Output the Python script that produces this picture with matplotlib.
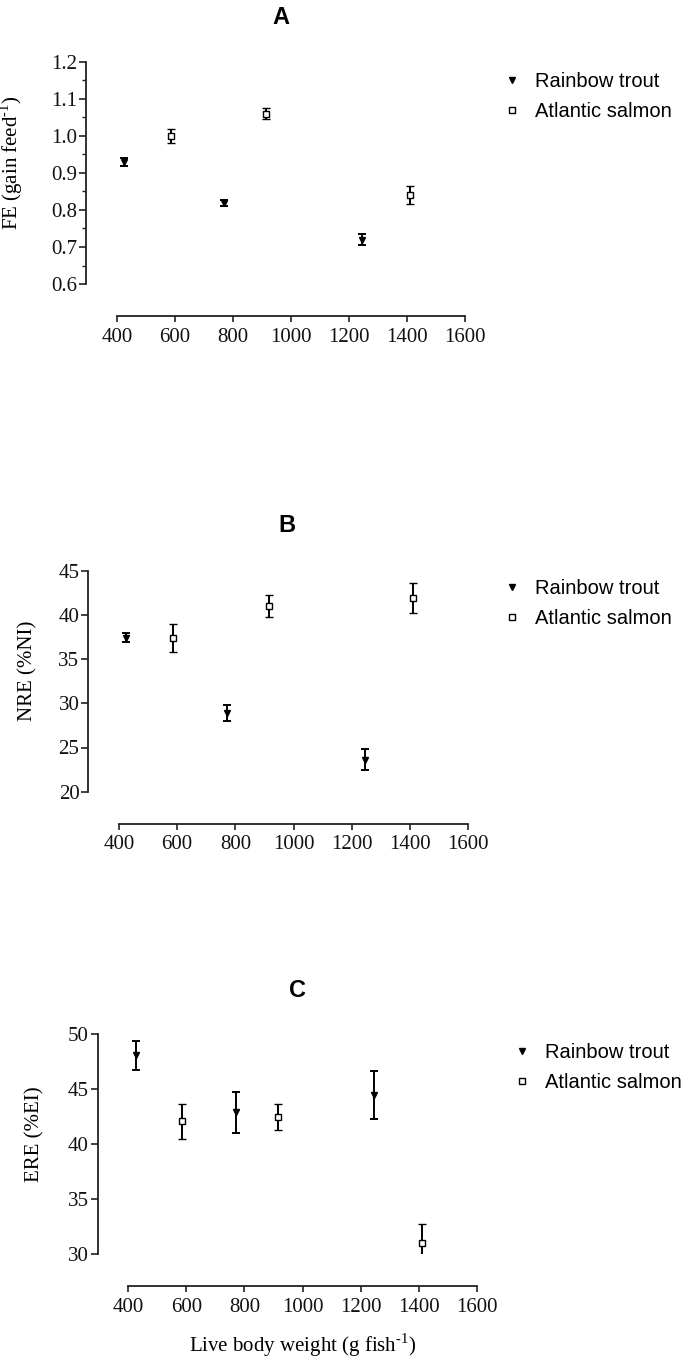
import matplotlib
matplotlib.use("Agg")
import matplotlib.pyplot as plt
from matplotlib.lines import Line2D
from matplotlib.ticker import MultipleLocator

# body weight (g) at each sampling point
rt_x = [425, 770, 1245]
as_x = [585, 915, 1410]

# panel A: feed efficiency
fe_rt = [0.93, 0.82, 0.72]
fe_rt_err = [0.010, 0.008, 0.015]
fe_as = [1.00, 1.06, 0.84]
fe_as_err = [0.020, 0.015, 0.025]

# panel B: nitrogen retention efficiency
nre_rt = [37.4, 28.9, 23.6]
nre_rt_err = [0.5, 0.9, 1.2]
nre_as = [37.4, 41.0, 41.9]
nre_as_err = [1.55, 1.25, 1.7]

# panel C: energy retention efficiency
ere_rt = [48.1, 42.9, 44.5]
ere_rt_err = [1.3, 1.9, 2.2]
ere_as = [42.1, 42.5, 31.0]
ere_as_err = [1.6, 1.2, 1.75]

W, H = 682, 1361
SERIF = ["Liberation Serif", "DejaVu Serif"]
SANS = ["Liberation Sans", "DejaVu Sans"]
plt.rcParams["font.family"] = SERIF
plt.rcParams["mathtext.fontset"] = "custom"
plt.rcParams["mathtext.rm"] = "Liberation Serif"
INK = "#222222"

fig = plt.figure(figsize=(W / 100, H / 100), dpi=100)


def px_axes(x0, x1, ytop, ybot):
    return fig.add_axes([x0 / W, 1 - ybot / H, (x1 - x0) / W, (ybot - ytop) / H])


def panel(box, rt_y, rt_e, as_y, as_e, ylim, major, minor, ylabel, label_x,
          title, title_xy, leg_xy):
    ax = px_axes(*box)
    x0, x1 = box[0], box[1]
    ax.errorbar(rt_x, rt_y, yerr=rt_e, fmt="v", color="black", ms=4.6,
                elinewidth=1.4, capsize=3, capthick=1.4)
    ax.errorbar(as_x, as_y, yerr=as_e, fmt="s", color="black", mfc="white",
                mec="black", mew=1.0, ms=4.0, elinewidth=1.4, capsize=3,
                capthick=1.4)
    ax.set_xlim(400, 1600)
    ax.set_ylim(*ylim)
    ax.set_xticks(range(400, 1601, 200))
    ax.yaxis.set_major_locator(MultipleLocator(major))
    if minor:
        ax.yaxis.set_minor_locator(MultipleLocator(minor))
    for s in ("top", "right"):
        ax.spines[s].set_visible(False)
    ax.spines["left"].set_position(("outward", 22))
    ax.spines["bottom"].set_position(("outward", 23))
    for s in ("left", "bottom"):
        ax.spines[s].set_linewidth(1.3)
        ax.spines[s].set_color(INK)
    ax.tick_params(axis="y", which="major", length=5, width=1.2,
                   labelsize=15, pad=1.5, colors=INK)
    ax.tick_params(axis="y", which="minor", length=3, width=1.0, colors=INK)
    ax.tick_params(axis="x", length=4.5, width=1.2, labelsize=15, pad=4,
                   colors=INK)
    for lab in ax.get_xticklabels() + ax.get_yticklabels():
        lab.set_color("#111111")
    ax.set_ylabel(ylabel, fontsize=15)
    ax.yaxis.set_label_coords((label_x - x0) / (x1 - x0), 0.545)
    fig.text(title_xy[0] / W, 1 - title_xy[1] / H, title, family=SANS,
             fontsize=17, fontweight="bold", ha="center", va="center")
    handles = [
        Line2D([], [], ls="none", marker="v", color="black", ms=4.6),
        Line2D([], [], ls="none", marker="s", mfc="white", mec="black",
               mew=1.0, ms=4.0),
    ]
    ax.legend(handles, ["Rainbow trout", "Atlantic salmon"], loc="center left",
              bbox_to_anchor=(leg_xy[0] / W, 1 - leg_xy[1] / H),
              bbox_transform=fig.transFigure, frameon=False,
              prop={"family": SANS, "size": 14.5}, handlelength=1.0,
              handletextpad=0.65, labelspacing=0.55, borderpad=0,
              borderaxespad=0)
    return ax


SUP = "\u2010"  # hyphen-style minus as in the original
panel((117, 465, 62, 284), fe_rt, fe_rt_err, fe_as, fe_as_err, (0.6, 1.2),
      0.1, 0.05, r"FE (gain feed$^{\mathregular{" + SUP + "1}}$)", 25,
      "A", (281, 17.5), (501.7, 96.2))
panel((119, 468, 570.7, 791.7), nre_rt, nre_rt_err, nre_as, nre_as_err,
      (20, 45), 5, None, "NRE (%NI)", 37.5, "B", (287, 526), (502, 603.5))
ax_c = panel((128.3, 476.7, 1034.3, 1254.3), ere_rt, ere_rt_err, ere_as,
             ere_as_err, (30, 50), 5, None, "ERE (%EI)", 44.5, "C",
             (297, 990.7), (511.7, 1067.2))
ax_c.set_xlabel(r"Live body weight (g fish$^{\mathregular{" + SUP + "1}}$)",
                fontsize=15, labelpad=10)

fig.savefig("out.png", dpi=100, facecolor="white")
